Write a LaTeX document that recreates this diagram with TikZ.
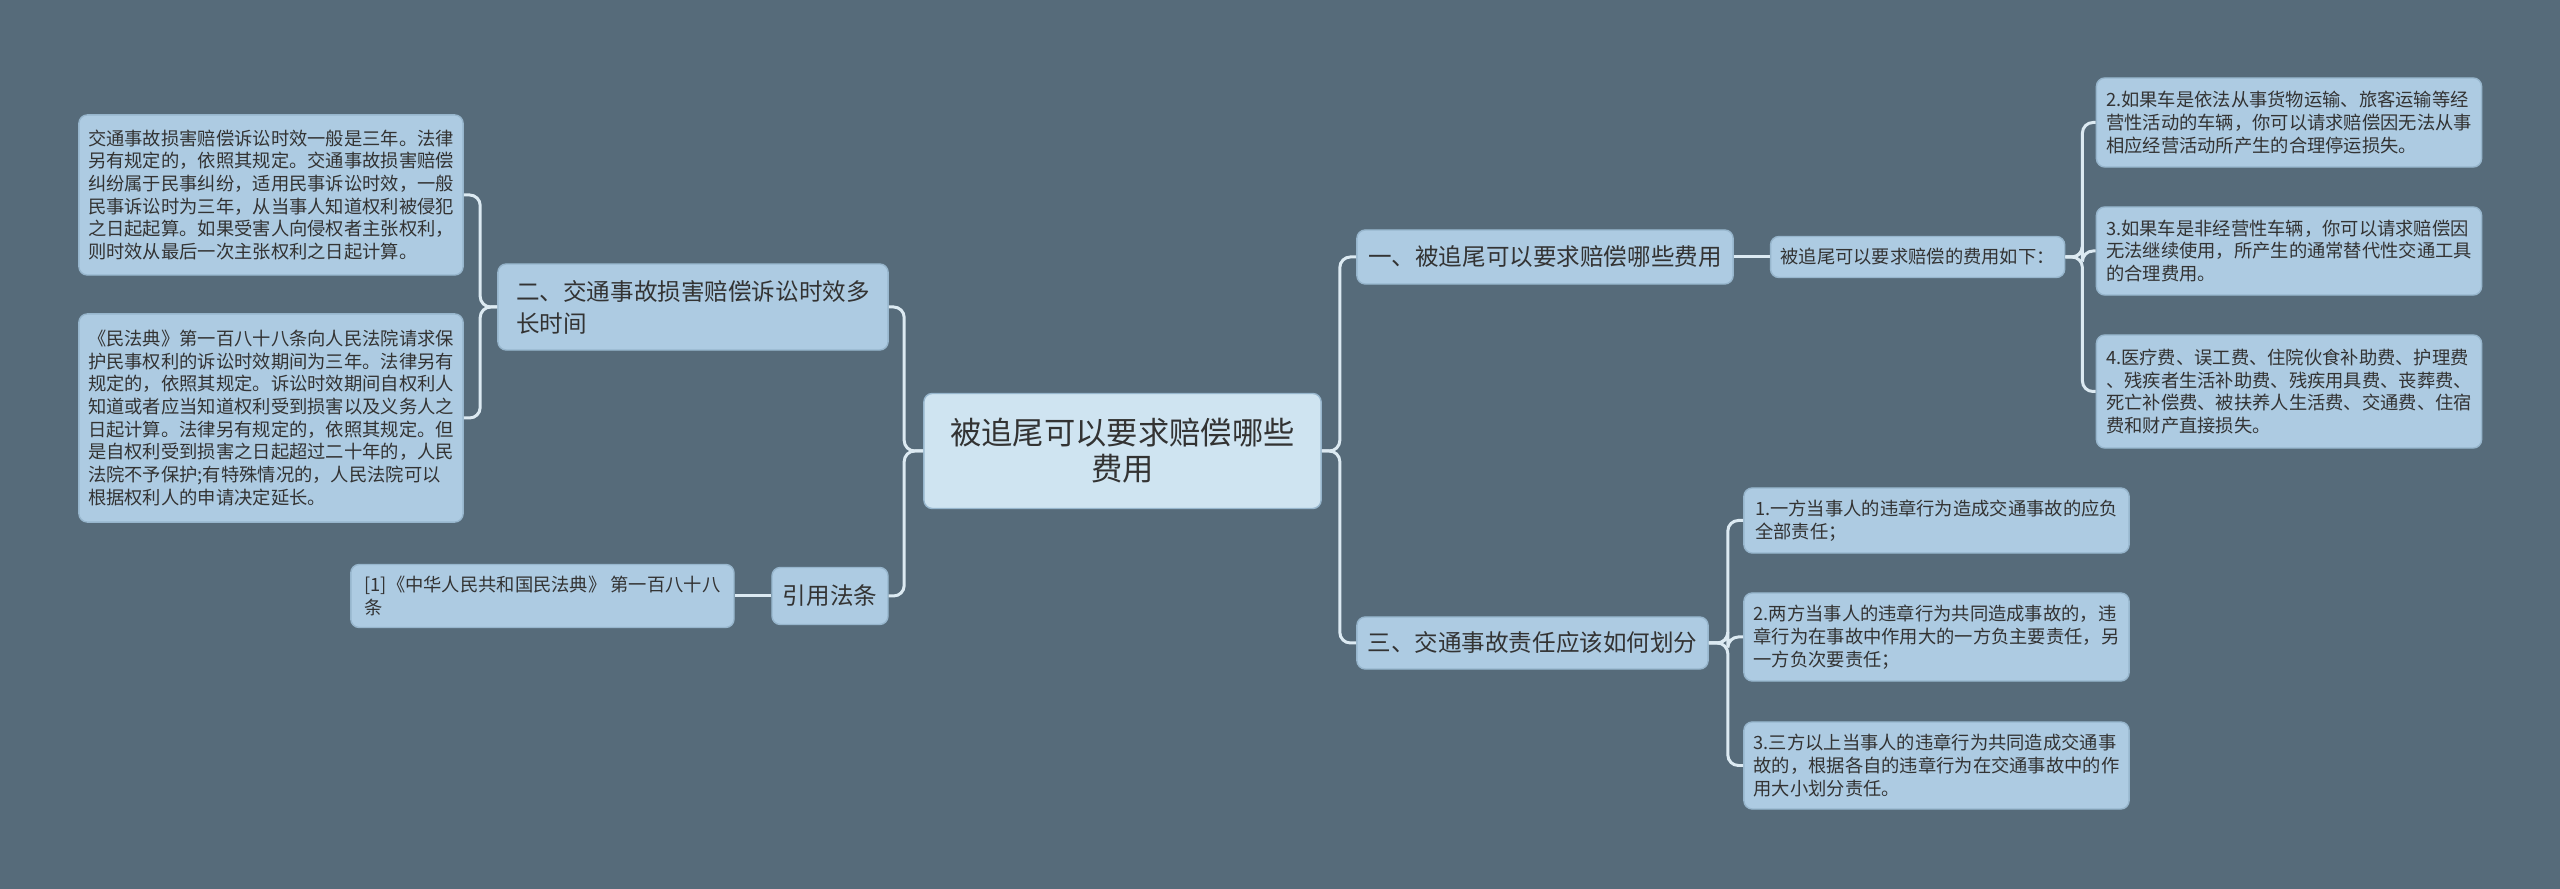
\documentclass[tikz,border=0pt]{standalone}
\usepackage{fontspec}
\setmainfont{Noto Sans CJK SC}
\usepackage{tikz}
\usetikzlibrary{
  positioning,
  calc,
  backgrounds
}
\definecolor{mmBack}{HTML}{566B7A}
\definecolor{mmRoot}{HTML}{CFE4F1}
\definecolor{mmTopic}{HTML}{ADCBE2}
\definecolor{mmEdge}{HTML}{97B6CD}
\definecolor{mmLine}{HTML}{DCEAF2}
\definecolor{mmText}{HTML}{333333}
\tikzset{
  mmnode/.style={
    draw=mmEdge, line width=0.4pt, rounded corners=2.4pt, fill=mmTopic,
    text=mmText, inner sep=2.5pt, align=left
  },
  rootnode/.style={mmnode, fill=mmRoot, align=center,
    font=\fontsize{8.9}{10.2}\selectfont},
  topic/.style={mmnode, font=\fontsize{6.7}{9.1}\selectfont},
  leaf/.style={mmnode, font=\fontsize{5.2}{6.45}\selectfont},
  link/.style={draw=mmLine, line width=0.85pt, rounded corners=3pt}
}

\begin{document}
\begin{tikzpicture}[x=0.01cm, y=-0.01cm]
  \fill[mmBack] (0,0) rectangle (2560,889);
  \useasboundingbox (0,0) rectangle (2560,889);

  % centre
  \node[rootnode, minimum width=3.97cm, minimum height=1.15cm] (root) at (1122.5,451)
    {被追尾可以要求赔偿哪些\\费用};

  % right side
  \node[topic, minimum width=3.76cm, minimum height=0.54cm] (one) at (1545,257)
    {一、被追尾可以要求赔偿哪些费用};
  \node[leaf, minimum width=2.94cm, minimum height=0.41cm, right=0.36cm of one] (fees)
    {被追尾可以要求赔偿的费用如下：};
  \node[leaf, minimum width=3.85cm, minimum height=0.89cm] (feeA) at (2289,122.5)
    {2.如果车是依法从事货物运输、旅客运输等经\\营性活动的车辆，你可以请求赔偿因无法从事\\相应经营活动所产生的合理停运损失。};
  \node[leaf, minimum width=3.85cm, minimum height=0.88cm] (feeB) at (2289,251)
    {3.如果车是非经营性车辆，你可以请求赔偿因\\无法继续使用，所产生的通常替代性交通工具\\的合理费用。};
  \node[leaf, minimum width=3.85cm, minimum height=1.13cm] (feeC) at (2289,391.5)
    {4.医疗费、误工费、住院伙食补助费、护理费\\、残疾者生活补助费、残疾用具费、丧葬费、\\死亡补偿费、被扶养人生活费、交通费、住宿\\费和财产直接损失。};

  \node[topic, minimum width=3.51cm, minimum height=0.52cm] (three) at (1532.5,643)
    {三、交通事故责任应该如何划分};
  \node[leaf, minimum width=3.85cm, minimum height=0.65cm] (dutyA) at (1936.5,520.5)
    {1.一方当事人的违章行为造成交通事故的应负\\全部责任；};
  \node[leaf, minimum width=3.85cm, minimum height=0.88cm] (dutyB) at (1936.5,637)
    {2.两方当事人的违章行为共同造成事故的，违\\章行为在事故中作用大的一方负主要责任，另\\一方负次要责任；};
  \node[leaf, minimum width=3.85cm, minimum height=0.87cm] (dutyC) at (1936.5,765.5)
    {3.三方以上当事人的违章行为共同造成交通事\\故的，根据各自的违章行为在交通事故中的作\\用大小划分责任。};

  % left side
  \node[topic, minimum width=3.90cm, minimum height=0.86cm] (two) at (693,307)
    {二、交通事故损害赔偿诉讼时效多\\长时间};
  \node[leaf, minimum width=3.84cm, minimum height=1.60cm] (termA) at (271,195)
    {交通事故损害赔偿诉讼时效一般是三年。法律\\另有规定的，依照其规定。交通事故损害赔偿\\纠纷属于民事纠纷，适用民事诉讼时效，一般\\民事诉讼时为三年，从当事人知道权利被侵犯\\之日起起算。如果受害人向侵权者主张权利，\\则时效从最后一次主张权利之日起计算。};
  \node[leaf, minimum width=3.84cm, minimum height=2.08cm] (termB) at (271,418)
    {《民法典》第一百八十八条向人民法院请求保\\护民事权利的诉讼时效期间为三年。法律另有\\规定的，依照其规定。诉讼时效期间自权利人\\知道或者应当知道权利受到损害以及义务人之\\日起计算。法律另有规定的，依照其规定。但\\是自权利受到损害之日起超过二十年的，人民\\法院不予保护;有特殊情况的，人民法院可以\\根据权利人的申请决定延长。};

  \node[topic, minimum width=1.16cm, minimum height=0.57cm] (cite) at (830,596)
    {引用法条};
  \node[leaf, minimum width=3.83cm, minimum height=0.63cm, left=0.365cm of cite] (law)
    {[1]《中华人民共和国民法典》 第一百八十八\\条};

  % connectors
  \draw[link] (root.east) -- ++(18,0) |- (one.west);
  \draw[link] (root.east) -- ++(18,0) |- (three.west);
  \draw[link] (root.west) -- ++(-19,0) |- (two.east);
  \draw[link] (root.west) -- ++(-19,0) |- (cite.east);
  \draw[link] (one.east) -- (fees.west);
  \draw[link] (fees.east) -- ++(17,0) |- (feeA.west);
  \draw[link] (fees.east) -- ++(17,0) |- (feeB.west);
  \draw[link] (fees.east) -- ++(17,0) |- (feeC.west);
  \draw[link] (three.east) -- ++(19,0) |- (dutyA.west);
  \draw[link] (three.east) -- ++(19,0) |- (dutyB.west);
  \draw[link] (three.east) -- ++(19,0) |- (dutyC.west);
  \draw[link] (two.west) -- ++(-17,0) |- (termA.east);
  \draw[link] (two.west) -- ++(-17,0) |- (termB.east);
  \draw[link] (cite.west) -- (law.east);
\end{tikzpicture}
\end{document}
